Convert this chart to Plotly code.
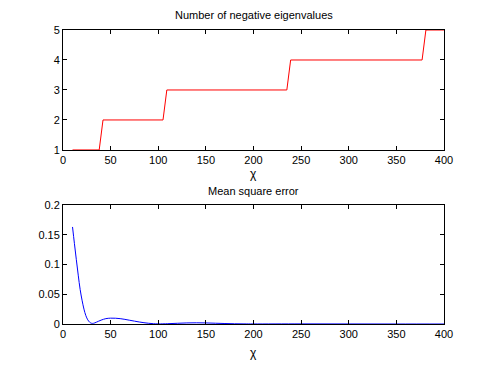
import plotly.graph_objects as go

# number of negative eigenvalues vs chi
chi_steps = [10, 38, 42, 105, 109, 235, 239, 377, 381, 400]
neg_eig = [1, 1, 2, 2, 3, 3, 4, 4, 5, 5]

# mean square error vs chi
chi_mse = [10, 12, 14, 16, 18, 20, 22, 24, 26, 28, 30, 32, 35, 40, 45, 50, 55,
           60, 65, 70, 75, 80, 85, 90, 95, 100, 110, 120, 130, 140, 150, 160,
           170, 180, 190, 200, 250, 300, 350, 400]
mse = [0.163, 0.135, 0.108, 0.082, 0.058, 0.040, 0.025, 0.014, 0.007, 0.003,
       0.0012, 0.0012, 0.003, 0.0065, 0.009, 0.0098, 0.0097, 0.009, 0.0078,
       0.0063, 0.0048, 0.0034, 0.0022, 0.0012, 0.0005, 0.0002, 0.0005, 0.0012,
       0.0018, 0.002, 0.0018, 0.0013, 0.0008, 0.0004, 0.0002, 0.0001, 0.0002,
       0.0001, 0.0, 0.0]

x_ticks = [0, 50, 100, 150, 200, 250, 300, 350, 400]
y1_ticks = [1, 2, 3, 4, 5]
y2_ticks = [0, 0.05, 0.1, 0.15, 0.2]
y2_labels = ["0", "0.05", "0.1", "0.15", "0.2"]

fig = go.Figure()
fig.add_trace(go.Scatter(x=chi_steps, y=neg_eig, mode="lines",
                         line=dict(color="#ff0000", width=1),
                         xaxis="x", yaxis="y"))
fig.add_trace(go.Scatter(x=chi_mse, y=mse, mode="lines", line_shape="spline",
                         line=dict(color="#0000ff", width=1),
                         xaxis="x2", yaxis="y2"))

ax = dict(showline=True, linecolor="black", linewidth=1, mirror="ticks",
          ticks="inside", ticklen=4, tickcolor="black", showgrid=False,
          zeroline=False, tickfont=dict(size=11, color="black"))

# page body has an 8px margin, so the margins are shifted to compensate
fig.update_layout(
    width=491, height=369,
    margin=dict(l=55, r=55, t=22, b=53),
    paper_bgcolor="white", plot_bgcolor="white",
    font=dict(family="Liberation Sans, Arial, sans-serif", size=11, color="black"),
    showlegend=False,
    xaxis=dict(ax, domain=[0, 1], anchor="y", range=[0, 400], tickvals=x_ticks),
    yaxis=dict(ax, domain=[0.592, 1], anchor="x", range=[1, 5], tickvals=y1_ticks),
    xaxis2=dict(ax, domain=[0, 1], anchor="y2", range=[0, 400], tickvals=x_ticks),
    yaxis2=dict(ax, domain=[0, 0.405], anchor="x2", range=[0, 0.2],
                tickvals=y2_ticks, ticktext=y2_labels),
    annotations=[
        dict(text="Number of negative eigenvalues", xref="paper", yref="paper",
             x=0.5, y=1, yanchor="bottom", yshift=7, showarrow=False),
        dict(text="Mean square error", xref="paper", yref="paper",
             x=0.5, y=0.405, yanchor="bottom", yshift=6, showarrow=False),
        dict(text="χ", xref="paper", yref="paper", x=0.5, y=0.592,
             yanchor="top", yshift=-15, showarrow=False, font=dict(size=12)),
        dict(text="χ", xref="paper", yref="paper", x=0.5, y=0,
             yanchor="top", yshift=-20, showarrow=False, font=dict(size=12)),
    ],
)

fig.write_html("out.html")
